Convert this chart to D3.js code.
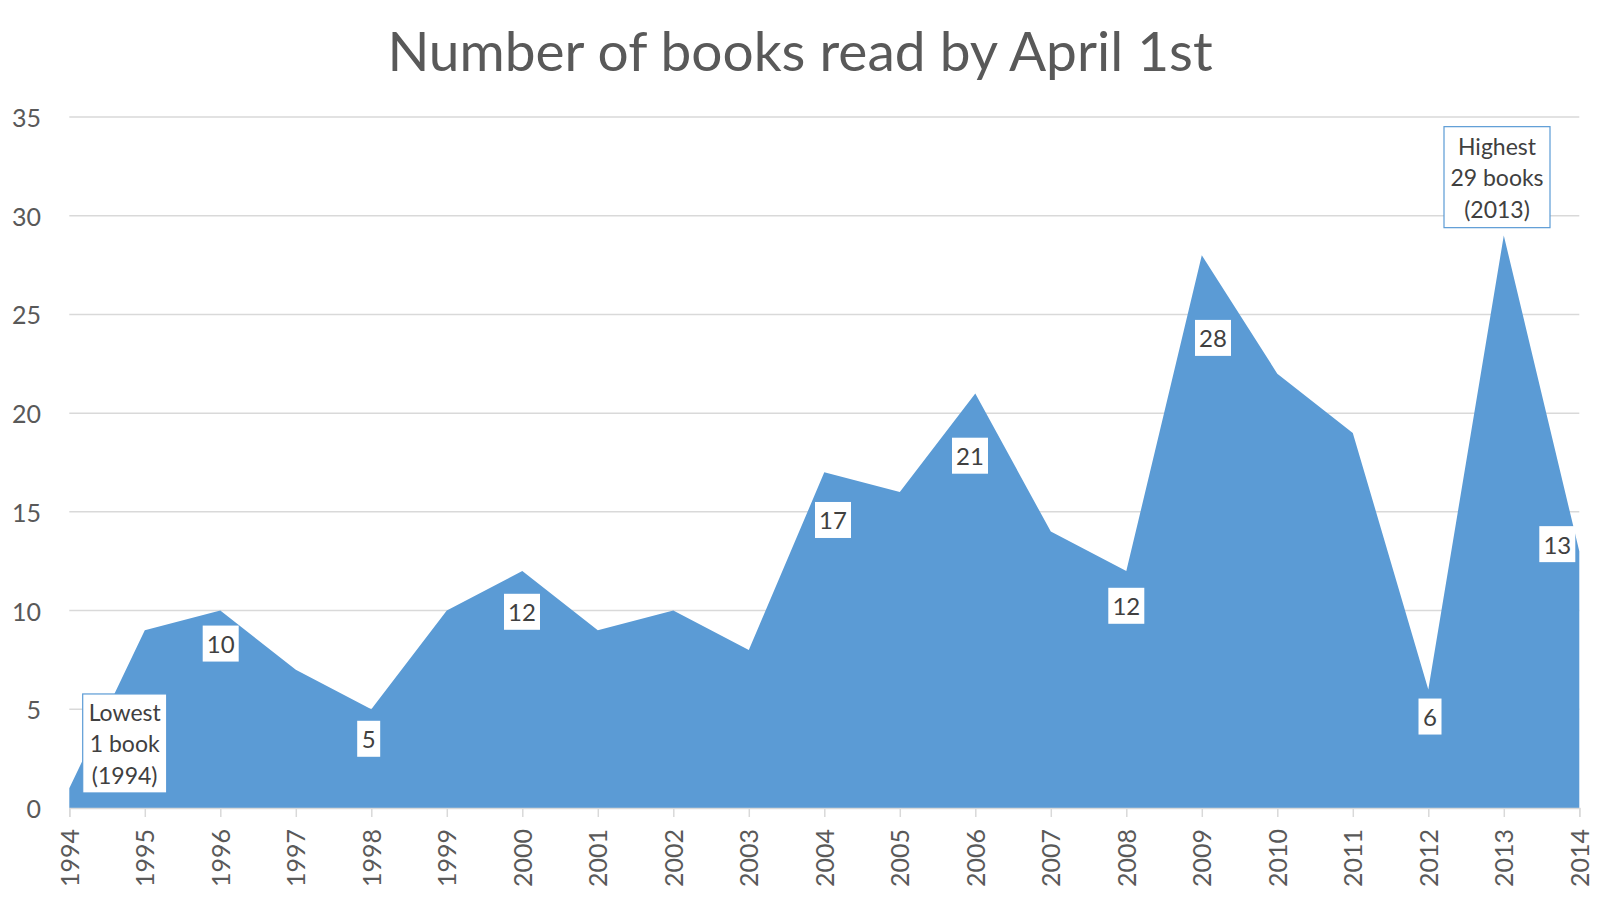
<!DOCTYPE html>
<html>
<head>
<meta charset="utf-8">
<script src="https://cdn.jsdelivr.net/npm/d3@7"></script>
<style>
  html, body { margin: 0; padding: 0; background: #fff; }
  svg { display: block; }
</style>
</head>
<body>
<svg id="chart" width="1600" height="901"></svg>
<script>
// ---- data ----
const years = [1994,1995,1996,1997,1998,1999,2000,2001,2002,2003,2004,2005,2006,2007,2008,2009,2010,2011,2012,2013,2014];
const books = [1,9,10,7,5,10,12,9,10,8,17,16,21,14,12,28,22,19,6,29,13];
const yTicks = [0,5,10,15,20,25,30,35];
const labelYears = [1996,1998,2000,2004,2006,2008,2009,2012,2014];
const titleText = "Number of books read by April 1st";
const lowestLines = ["Lowest", "1 book", "(1994)"];
const highestLines = ["Highest", "29 books", "(2013)"];

// ---- layout (pixel offsets of the manually placed labels) ----
const labelOffsets = {
  1996: [0.4, 33], 1998: [-2.6, 29.5], 2000: [-0.3, 40.7], 2004: [8.7, 47.6],
  2006: [-5.3, 62.3], 2008: [0, 34.7], 2009: [11.2, 82.7], 2012: [1.7, 27], 2014: [-22, -7.2]
};

const FONT = "Lato, 'Open Sans', sans-serif";
const svg = d3.select("#chart");
const x = d3.scaleLinear().domain([1994, 2014]).range([69.3, 1579.3]);
const y = d3.scaleLinear().domain([0, 35]).range([808, 117]);

// gridlines
svg.append("g").selectAll("line").data(yTicks.filter(d => d > 0)).join("line")
  .attr("x1", x(1994)).attr("x2", x(2014))
  .attr("y1", d => y(d)).attr("y2", d => y(d))
  .attr("stroke", "#D9D9D9").attr("stroke-width", 1.5);

// area
const data = years.map((yr, i) => ({ yr, v: books[i] }));
svg.append("path").datum(data)
  .attr("fill", "#5B9BD5")
  .attr("d", d3.area().x(d => x(d.yr)).y0(y(0)).y1(d => y(d.v)));

// y axis labels
svg.append("g").selectAll("text").data(yTicks).join("text")
  .attr("x", 41).attr("y", d => y(d))
  .attr("text-anchor", "end").attr("dominant-baseline", "central")
  .attr("font-family", FONT).attr("font-size", 25).attr("fill", "#595959")
  .text(d => d);

// x axis
const xAxis = d3.axisBottom(x).tickValues(years).tickFormat(d3.format("d")).tickSize(9).tickPadding(12);
const gx = svg.append("g").attr("transform", `translate(0,${y(0)})`).call(xAxis);
gx.select(".domain").attr("stroke", "#D9D9D9").attr("stroke-width", 1.5);
gx.selectAll(".tick line").attr("stroke", "#D9D9D9").attr("stroke-width", 1.5);
gx.selectAll(".tick text")
  .attr("font-family", FONT).attr("font-size", 25).attr("fill", "#595959")
  .attr("transform", "rotate(-90)")
  .attr("x", -21).attr("y", 0).attr("dy", "0.35em")
  .attr("text-anchor", "end");

// data labels
const lbl = svg.append("g").selectAll("g").data(data.filter(d => labelYears.includes(d.yr))).join("g")
  .attr("transform", d => `translate(${x(d.yr) + labelOffsets[d.yr][0]},${y(d.v) + labelOffsets[d.yr][1]})`);
lbl.append("rect")
  .attr("x", d => String(d.v).length > 1 ? -18 : -11.5)
  .attr("width", d => String(d.v).length > 1 ? 36 : 23)
  .attr("y", -18).attr("height", 36).attr("fill", "#fff");
lbl.append("text")
  .attr("text-anchor", "middle").attr("dominant-baseline", "central")
  .attr("font-family", FONT).attr("font-size", 24).attr("fill", "#404040")
  .text(d => d.v);

// callout boxes
function callout(yr, v, dx, dy, w, h, lines) {
  const g = svg.append("g").attr("transform", `translate(${x(yr) + dx},${y(v) + dy})`);
  g.append("rect").attr("x", -w / 2).attr("y", -h / 2).attr("width", w).attr("height", h)
    .attr("fill", "#fff").attr("stroke", "#5B9BD5").attr("stroke-width", 1.2);
  g.selectAll("text").data(lines).join("text")
    .attr("x", 0).attr("y", (d, i) => (i - 1) * 31.5)
    .attr("text-anchor", "middle").attr("dominant-baseline", "central")
    .attr("font-family", FONT).attr("font-size", 23).attr("fill", "#404040")
    .text(d => d);
}
const iMin = books.indexOf(d3.min(books));
const iMax = books.indexOf(d3.max(books));
callout(years[iMin], books[iMin], 55.4, -44.8, 84, 99, lowestLines);
callout(years[iMax], books[iMax], -6.8, -58.3, 106, 101, highestLines);

// title
svg.append("text")
  .attr("x", 800).attr("y", 71)
  .attr("text-anchor", "middle")
  .attr("font-family", FONT).attr("font-size", 55).attr("fill", "#595959")
  .text(titleText);
</script>
</body>
</html>
